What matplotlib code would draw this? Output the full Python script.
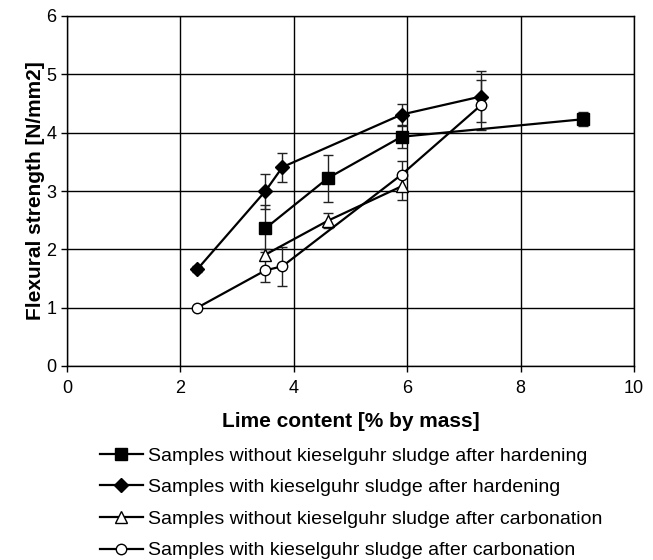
import matplotlib
matplotlib.use('Agg')
import matplotlib.pyplot as plt
from matplotlib.lines import Line2D

plt.rcParams['font.family'] = ['Liberation Sans', 'DejaVu Sans']

# Lime content [% by mass] and flexural strength [N/mm2] with error (+/-)
x_wo_hard = [3.5, 4.6, 5.9, 9.1]
y_wo_hard = [2.36, 3.22, 3.93, 4.23]
e_wo_hard = [0.40, 0.40, 0.20, 0.12]

x_w_hard = [2.3, 3.5, 3.8, 5.9, 7.3]
y_w_hard = [1.66, 3.00, 3.41, 4.31, 4.62]
e_w_hard = [0.05, 0.30, 0.25, 0.19, 0.44]

x_wo_carb = [3.5, 4.6, 5.9]
y_wo_carb = [1.91, 2.49, 3.08]
e_wo_carb = [0.10, 0.13, 0.23]

x_w_carb = [2.3, 3.5, 3.8, 5.9, 7.3]
y_w_carb = [1.00, 1.64, 1.71, 3.28, 4.47]
e_w_carb = [0.02, 0.20, 0.33, 0.23, 0.43]

labels = [
    'Samples without kieselguhr sludge after hardening',
    'Samples with kieselguhr sludge after hardening',
    'Samples without kieselguhr sludge after carbonation',
    'Samples with kieselguhr sludge after carbonation',
]

fig = plt.figure(figsize=(6.53, 5.6), dpi=100)
ax = fig.add_axes([67 / 653, 1 - 366 / 560, 567 / 653, 350 / 560])

series = [
    (x_wo_hard, y_wo_hard, e_wo_hard, 's', 'black', 8),
    (x_w_hard, y_w_hard, e_w_hard, 'D', 'black', 7),
    (x_wo_carb, y_wo_carb, e_wo_carb, '^', 'white', 8),
    (x_w_carb, y_w_carb, e_w_carb, 'o', 'white', 7.5),
]
handles = []
for (xs, ys, es, mk, fc, ms), lab in zip(series, labels):
    ax.errorbar(xs, ys, yerr=es, fmt='-', marker=mk, color='black', mfc=fc,
                mec='black', mew=1, ms=ms, lw=1.6, ecolor='#222222',
                elinewidth=1, capsize=3.5, capthick=1, zorder=3)
    handles.append(Line2D([], [], color='black', lw=1.6, marker=mk, mfc=fc,
                          mec='black', mew=1, ms=ms, label=lab))

ax.set_xlim(0, 10)
ax.set_ylim(0, 6)
ax.set_xticks(range(0, 11, 2))
ax.set_yticks(range(0, 7))
ax.grid(True, color='black', lw=1)
ax.set_axisbelow(True)
for s in ax.spines.values():
    s.set_linewidth(1)
ax.tick_params(direction='out', length=4, width=1, labelsize=13)
ax.tick_params(axis='x', pad=6)
ax.set_xlabel('Lime content [% by mass]', fontsize=15, fontweight='bold', labelpad=11)
ax.set_ylabel('Flexural strength [N/mm2]', fontsize=15, fontweight='bold', labelpad=1)

fig.legend(handles=handles, loc='upper left', bbox_to_anchor=(100 / 653, 1 - 447 / 560),
           frameon=False, fontsize=14, handlelength=2.2, handletextpad=0.25,
           labelspacing=0.72, borderpad=0, borderaxespad=0)

fig.savefig('out.png', dpi=100)
